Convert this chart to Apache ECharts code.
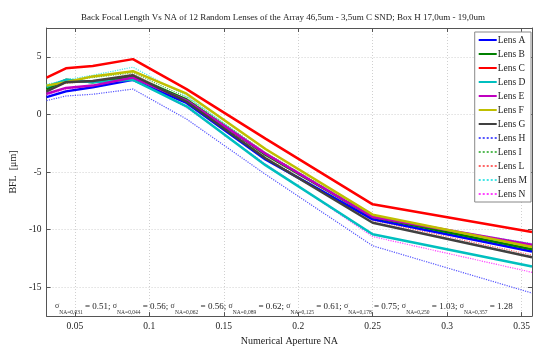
<!DOCTYPE html>
<html><head><meta charset="utf-8">
<script src="https://cdn.jsdelivr.net/npm/echarts@6/dist/echarts.min.js"></script>
<style>html,body{margin:0;padding:0;background:#fff}#c{width:536px;height:351px}</style>
</head><body><div id="c"></div>
<script>
const NA = [0.031, 0.044, 0.062, 0.089, 0.125, 0.178, 0.250, 0.357];
const lensA = [1.5, 2.0, 2.35, 3.0, 1.0, -3.9, -9.1, -11.9];
const lensB = [2.2, 3.0, 2.8, 3.3, 1.3, -3.5, -8.9, -11.7];
const lensC = [3.2, 4.0, 4.2, 4.8, 2.2, -2.1, -7.8, -10.2];
const lensD = [2.4, 3.0, 2.8, 3.0, 0.7, -4.4, -10.4, -13.2];
const lensE = [1.8, 2.3, 2.5, 3.2, 1.2, -3.4, -8.9, -11.3];
const lensF = [2.5, 2.8, 3.3, 3.75, 1.8, -3.0, -8.7, -11.5];
const lensG = [2.0, 2.8, 2.9, 3.4, 1.1, -3.8, -9.4, -12.4];
const lensH = [1.2, 1.6, 1.75, 2.2, -0.4, -5.2, -11.4, -15.5];
const lensI = [2.5, 2.9, 3.2, 3.6, 1.5, -3.3, -8.8, -11.4];
const lensL = [2.1, 2.7, 2.9, 3.5, 1.2, -3.7, -9.2, -12.2];
const lensM = [2.6, 3.0, 3.4, 4.1, 1.6, -3.4, -9.0, -11.2];
const lensN = [1.7, 2.2, 2.5, 3.1, 0.6, -4.3, -10.6, -13.7];
const lensNames = ['Lens A','Lens B','Lens C','Lens D','Lens E','Lens F','Lens G','Lens H','Lens I','Lens L','Lens M','Lens N'];
const xTicks = [0.05, 0.1, 0.15, 0.2, 0.25, 0.3, 0.35];
const yTicks = [-15, -10, -5, 0, 5];
const sigmaNA = ['0,031','0,044','0,062','0,089','0,125','0,178','0,250','0,357'];
const sigmaVal = ['0.51','0.56','0.56','0.62','0.61','0.75','1.03','1.28'];
const title = 'Back Focal Length Vs NA of 12 Random Lenses of the Array 46,5um - 3,5um C SND; Box H 17,0um - 19,0um';

const allData = [lensA,lensB,lensC,lensD,lensE,lensF,lensG,lensH,lensI,lensL,lensM,lensN];
const colors = ['#0000ff','#008000','#ff0000','#00bfbf','#bf00bf','#bfbf00','#404040','#5555ff','#55bb55','#ff6666','#44e6e6','#ff44ff'];
const FONT = '"Liberation Serif", "DejaVu Serif", serif';

const series = allData.map((d, i) => ({
  name: lensNames[i], type: 'line', showSymbol: false, symbol: 'none',
  data: d.map((v, j) => [NA[j], v]),
  lineStyle: { color: colors[i], width: i < 7 ? 2.5 : 1.2, type: i < 7 ? 'solid' : 'dotted' },
  itemStyle: { color: colors[i] },
  z: i < 7 ? 3 : 2
}));

let rich = '';
sigmaNA.forEach((n, i) => {
  rich += '{s|σ}{sub|NA=' + n + '}{v| = ' + sigmaVal[i] + (i < sigmaNA.length - 1 ? '; ' : '') + '}';
});

const axisLineStyle = { color: '#555', width: 1 };
const chart = echarts.init(document.getElementById('c'), null, { renderer: 'canvas' });
chart.setOption({
  animation: false,
  backgroundColor: '#fff',
  textStyle: { fontFamily: FONT },
  title: { text: title, left: 278, textAlign: 'center', top: 8,
    textStyle: { fontFamily: FONT, fontSize: 9, fontWeight: 'normal', color: '#222' } },
  grid: { left: 40, right: 4, top: 28, bottom: 24 },
  legend: {
    orient: 'vertical', right: 5, top: 32, itemWidth: 18, itemHeight: 10, itemGap: 4,
    backgroundColor: '#fff', borderColor: '#888', borderWidth: 1, padding: [3, 4, 3, 3],
    itemStyle: { opacity: 0 },
    textStyle: { fontFamily: FONT, fontSize: 9.5, color: '#222', padding: [0, 0, 0, -4] },
    data: lensNames
  },
  xAxis: [{
    type: 'value', min: 0.031, max: 0.357, position: 'bottom',
    name: 'Numerical Aperture NA', nameLocation: 'middle', nameGap: 17,
    nameTextStyle: { fontFamily: FONT, fontSize: 10, color: '#222' },
    axisLine: { show: true, onZero: false, lineStyle: axisLineStyle },
    axisTick: { show: true, inside: true, length: 4, customValues: xTicks, lineStyle: axisLineStyle },
    axisLabel: { customValues: xTicks, fontFamily: FONT, fontSize: 9.5, color: '#222', margin: 5,
      formatter: v => String(+v.toFixed(2)) },
    splitLine: { show: true, lineStyle: { color: '#d0d0d0', type: [1, 2], width: 1 } }
  }, {
    type: 'value', min: 0.031, max: 0.357, position: 'top',
    axisLine: { show: true, onZero: false, lineStyle: axisLineStyle },
    axisTick: { show: true, inside: true, length: 4, customValues: xTicks, lineStyle: axisLineStyle },
    axisLabel: { show: false }, splitLine: { show: false }
  }],
  yAxis: [{
    type: 'value', min: -17.5, max: 7.5, position: 'left',
    name: 'BFL  [μm]', nameLocation: 'middle', nameGap: 20, nameRotate: 90,
    nameTextStyle: { fontFamily: FONT, fontSize: 10, color: '#222' },
    axisLine: { show: true, onZero: false, lineStyle: axisLineStyle },
    axisTick: { show: true, inside: true, length: 4, customValues: yTicks, lineStyle: axisLineStyle },
    axisLabel: { customValues: yTicks, fontFamily: FONT, fontSize: 9.5, color: '#222', margin: 5 },
    splitLine: { show: true, lineStyle: { color: '#d0d0d0', type: [1, 2], width: 1 } }
  }, {
    type: 'value', min: -17.5, max: 7.5, position: 'right',
    axisLine: { show: true, onZero: false, lineStyle: axisLineStyle },
    axisTick: { show: true, inside: true, length: 4, customValues: yTicks, lineStyle: axisLineStyle },
    axisLabel: { show: false }, splitLine: { show: false }
  }],
  graphic: [{
    type: 'text', left: 55, top: 302, z: 10,
    style: {
      text: rich, fontFamily: FONT,
      rich: {
        s: { fontSize: 8, fontFamily: FONT, fill: '#333', verticalAlign: 'top', lineHeight: 14 },
        sub: { fontSize: 5.5, fontFamily: FONT, fill: '#333', verticalAlign: 'bottom', lineHeight: 14, padding: [8, 0, 0, 0] },
        v: { fontSize: 9, fontFamily: FONT, fill: '#222', verticalAlign: 'top', lineHeight: 14 }
      }
    }
  }],
  series: series
});
</script></body></html>
